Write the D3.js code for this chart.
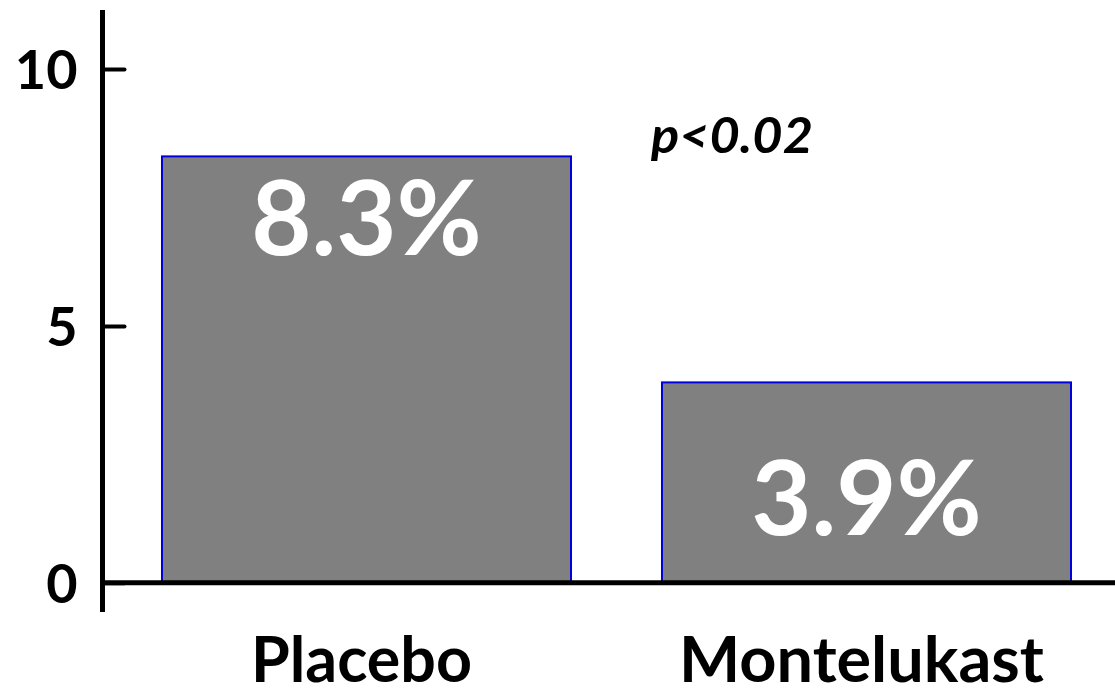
<!DOCTYPE html>
<html>
<head>
<meta charset="utf-8">
<script src="https://cdn.jsdelivr.net/npm/d3@7"></script>
<style>
  html, body { margin: 0; padding: 0; background: #fff; }
  svg { display: block; }
  text { font-family: "Comic Sans MS", Lato, "Open Sans", sans-serif; font-weight: 700; }
</style>
</head>
<body>
<svg id="chart" width="1115" height="696"></svg>
<script>
// Exacerbation rate (%) by treatment group
const categories = ["Placebo", "Montelukast"];
const values = [8.3, 3.9];
const valueLabels = ["8.3%", "3.9%"];
const tickValues = [0, 5, 10];
const pValueText = "p<0.02";
const axisExtent = [-0.57, 11.15];

const width = 1115, height = 696;
const svg = d3.select("#chart");

const y = d3.scaleLinear().domain(axisExtent).range([612, 10]);
const x = d3.scaleBand()
  .domain(categories)
  .range([112, 1121])
  .paddingInner(0.182)
  .paddingOuter(0.1);

// bars
svg.append("g").selectAll("rect")
  .data(categories)
  .join("rect")
  .attr("x", d => x(d))
  .attr("y", (d, i) => y(values[i]))
  .attr("width", x.bandwidth())
  .attr("height", (d, i) => y(0) - y(values[i]))
  .attr("fill", "#808080")
  .attr("stroke", "#0000d8")
  .attr("stroke-width", 2);

// value labels inside bars
svg.append("g").selectAll("text")
  .data(categories)
  .join("text")
  .attr("x", d => x(d) + x.bandwidth() / 2)
  .attr("y", (d, i) => i === 0 ? y(values[i]) + 99 : y(0) - 48)
  .attr("text-anchor", "middle")
  .attr("fill", "#fff")
  .attr("font-size", 104)
  .text((d, i) => valueLabels[i]);

// y axis: ticks to the right, labels on the left
const yAxis = d3.axisLeft(y)
  .tickValues(tickValues)
  .tickSizeInner(-22)
  .tickSizeOuter(0)
  .tickPadding(25)
  .tickFormat(d3.format("d"));

const axisG = svg.append("g")
  .attr("transform", "translate(102.5,0)")
  .call(yAxis);
axisG.select(".domain").remove();
axisG.selectAll(".tick line").attr("stroke", "#000").attr("stroke-width", 4).attr("stroke-linecap", "round");
axisG.selectAll(".tick text")
  .attr("font-size", 54)
  .attr("fill", "#000")
  .attr("dy", "0.36em")
  .attr("font-family", "Lato, sans-serif")
  .attr("font-weight", 900);

// vertical axis line
svg.append("line")
  .attr("x1", 102.5).attr("x2", 102.5)
  .attr("y1", y(axisExtent[1])).attr("y2", y(axisExtent[0]))
  .attr("stroke", "#000").attr("stroke-width", 5);

// baseline
svg.append("line")
  .attr("x1", 100).attr("x2", width)
  .attr("y1", y(0)).attr("y2", y(0))
  .attr("stroke", "#000").attr("stroke-width", 5);

// category labels
const catWidths = [221, 365];
svg.append("g").selectAll("text")
  .data(categories)
  .join("text")
  .attr("x", d => x(d) + x.bandwidth() / 2 - 5)
  .attr("y", 682)
  .attr("text-anchor", "middle")
  .attr("font-size", 64)
  .attr("fill", "#000")
  .attr("textLength", (d, i) => catWidths[i])
  .attr("lengthAdjust", "spacingAndGlyphs")
  .text(d => d);

// significance note
svg.append("text")
  .attr("x", 651)
  .attr("y", 153)
  .attr("font-size", 50)
  .attr("font-style", "italic")
  .attr("font-weight", 900)
  .attr("fill", "#000")
  .attr("textLength", 162)
  .attr("lengthAdjust", "spacingAndGlyphs")
  .text(pValueText);
</script>
</body>
</html>
